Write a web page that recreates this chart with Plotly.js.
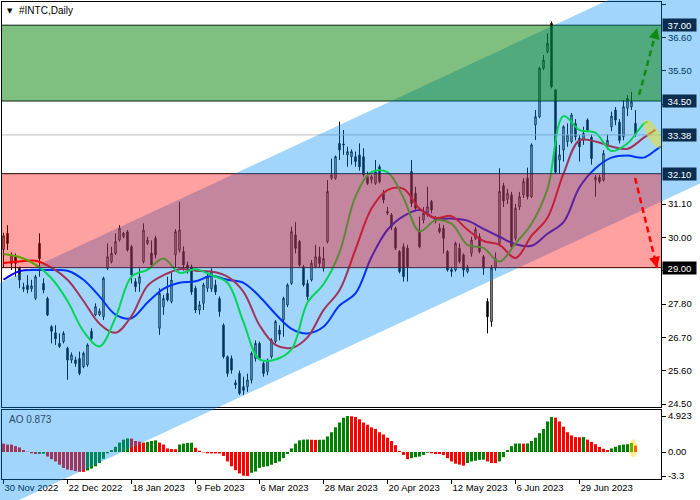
<!DOCTYPE html>
<html><head><meta charset="utf-8">
<script src="https://cdn.plot.ly/plotly-3.0.1.min.js"></script>
<style>html,body{margin:0;padding:0;background:#fff}#chart{width:700px;height:500px}</style>
</head><body><div id="chart"></div>
<script>
// ---------------- data ----------------
const symbolTitle = '#INTC,Daily';
const tickIdx = [0,16,32,48,64,80,96,112,128,144];
const tickLabels = ['30 Nov 2022','22 Dec 2022','18 Jan 2023','9 Feb 2023','6 Mar 2023','28 Mar 2023','20 Apr 2023','12 May 2023','6 Jun 2023','29 Jun 2023'];
const priceTicks = [24.5,25.6,26.7,27.8,28.9,30.0,31.1,34.4,35.5,36.6,37.7];

const open = [29.60,30.13,29.14,29.36,28.98,28.30,28.42,28.30,27.99,29.80,
28.48,27.98,27.05,26.85,26.50,26.56,26.34,25.95,25.95,26.00,
25.73,25.79,26.90,27.44,27.45,27.38,28.98,29.20,29.47,29.91,
30.02,30.18,29.69,28.54,28.48,29.20,29.80,29.48,29.97,27.00,
27.71,28.15,27.88,29.42,29.58,29.53,29.09,29.03,28.32,27.60,
27.82,28.32,28.30,28.43,27.98,27.10,26.06,26.00,25.20,25.51,
25.07,25.07,25.29,26.00,26.50,25.84,25.57,26.06,26.56,26.94,
27.27,27.77,28.48,30.08,29.86,29.03,28.48,28.59,29.03,29.36,
28.98,29.86,31.95,31.95,33.10,33.08,32.72,32.66,32.66,32.72,
32.66,32.00,31.90,31.78,32.33,31.45,30.85,30.74,30.30,29.53,
29.69,29.64,32.17,31.45,30.24,30.57,30.74,31.18,30.63,30.30,
30.30,29.53,28.87,28.92,29.64,29.42,28.87,29.47,29.97,30.02,
29.36,27.88,27.22,29.00,29.80,31.70,31.25,31.40,29.97,31.00,
31.40,31.95,31.34,33.71,33.98,35.58,36.13,37.06,34.86,32.55,
32.88,33.16,33.16,33.76,33.27,33.21,33.87,33.30,31.89,31.98,
31.89,33.00,33.65,34.20,33.80,33.32,34.26,34.31,33.76];
const high = [30.15,30.40,29.50,29.47,29.03,28.50,28.75,28.60,28.76,30.13,
28.65,28.04,27.10,27.10,26.83,26.90,26.39,26.20,26.06,26.23,
26.23,26.50,27.00,27.82,27.65,28.70,29.80,29.69,30.13,30.40,
30.18,30.24,29.75,28.65,28.98,30.46,30.02,29.90,30.05,28.32,
28.10,28.70,28.87,30.27,31.17,29.70,29.20,29.10,28.40,27.90,
28.50,28.80,28.98,28.60,28.05,27.16,26.10,26.10,25.30,25.60,
25.40,25.50,26.23,26.60,26.56,25.90,26.00,26.67,27.27,27.10,
28.04,28.48,30.35,30.50,29.91,29.09,28.60,29.25,29.75,29.69,
29.69,31.89,32.60,32.70,33.82,33.54,32.99,32.90,32.83,33.10,
32.94,32.17,32.06,32.55,32.40,31.56,31.00,30.80,30.35,29.58,
29.80,29.75,32.55,31.67,30.68,31.00,31.67,31.23,30.70,30.46,
30.41,29.58,29.03,29.86,29.80,29.47,29.09,30.02,30.35,30.13,
29.42,27.99,29.09,29.50,32.28,31.80,31.60,31.50,31.10,31.50,
31.95,32.30,33.10,34.20,35.63,36.02,36.73,37.12,34.90,33.05,
33.70,33.76,34.10,33.90,33.38,33.65,33.93,33.40,32.06,32.06,
32.88,33.40,34.15,34.30,33.90,34.53,34.69,34.80,34.20];
const low = [29.00,29.58,28.92,28.70,28.32,28.20,28.15,28.20,27.93,28.70,
28.15,27.40,26.50,26.45,26.35,26.50,25.30,25.85,25.73,25.45,
25.68,25.73,26.60,27.40,27.40,27.27,28.92,29.14,29.42,29.86,
29.97,29.53,28.48,28.20,28.20,29.14,29.75,29.00,29.30,26.78,
27.44,27.88,27.82,29.00,29.50,28.90,28.80,28.10,27.50,27.45,
27.60,28.20,28.20,28.10,27.38,26.00,25.40,25.50,25.00,24.80,
24.80,24.90,25.18,25.90,25.95,25.40,25.45,26.00,26.50,26.60,
26.72,27.70,28.43,29.47,29.03,28.37,27.93,28.54,28.98,29.00,
28.87,29.80,31.90,31.90,32.55,32.72,32.33,32.40,32.33,32.20,
32.00,31.73,31.78,31.73,31.78,31.12,30.74,30.24,29.58,28.81,
28.54,28.54,31.00,30.85,29.64,30.46,30.68,30.79,30.46,30.13,
29.47,28.87,28.70,28.87,29.14,28.70,28.81,29.36,29.91,29.47,
28.76,26.83,27.05,28.90,29.70,31.00,31.10,29.60,29.90,30.90,
31.30,31.25,31.30,33.21,33.93,35.52,36.07,34.92,32.10,32.11,
32.50,32.99,33.10,33.20,32.50,33.05,33.49,32.40,31.34,31.78,
31.84,32.90,33.50,33.70,33.10,33.20,34.00,34.20,33.32];
const close = [30.05,29.80,29.42,29.14,28.59,28.35,28.28,28.40,28.70,29.30,
28.26,27.44,26.90,26.65,26.40,26.83,25.95,26.12,25.84,25.51,
26.17,26.45,26.66,27.71,27.56,28.65,29.36,29.47,29.86,30.30,
30.13,29.58,28.76,28.37,28.70,30.24,29.91,29.09,29.42,28.15,
27.98,27.93,28.59,30.19,30.24,29.09,28.98,28.20,27.60,27.77,
28.43,28.70,28.87,28.20,27.55,26.06,25.51,25.62,25.13,24.85,
24.95,25.29,26.17,26.50,26.00,25.51,25.95,26.61,27.22,26.80,
27.99,28.43,30.19,29.64,29.09,28.43,28.04,29.14,29.36,29.14,
29.30,31.51,32.06,32.66,32.88,33.05,32.83,32.83,32.50,32.33,
32.06,31.78,32.00,32.17,31.84,31.23,30.80,30.35,29.64,28.87,
28.70,29.03,31.12,30.96,29.69,30.79,31.01,30.90,30.55,30.19,
29.97,28.92,28.94,29.80,29.20,28.92,28.98,29.91,30.26,29.53,
28.98,27.38,28.98,29.30,31.51,31.20,31.45,29.69,30.96,31.34,
31.84,31.34,33.05,33.98,35.58,35.85,36.40,34.97,32.15,32.72,
33.65,33.38,34.04,33.32,32.99,33.43,33.54,32.60,31.98,31.84,
32.77,33.20,34.00,33.87,33.20,34.31,34.58,34.47,33.38];

// Alligator lines, read every 4 bars (plus their shifted end)
const lipsIdx  = [0,4,8,12,16,20,24,28,32,36,40,44,48,52,56,60,64,68,72,76,80,84,88,92,96,100,104,108,112,116,120,124,128,132,136,140,144,148,152,156,160,161];
const lips     = [29.45,29.35,29.10,28.65,27.90,26.90,26.40,27.35,28.70,28.93,29.30,28.83,28.95,28.75,28.50,27.20,25.97,25.97,26.30,27.85,28.45,29.50,31.35,32.15,32.15,31.30,30.20,30.56,30.45,29.75,29.65,29.20,29.80,30.45,31.60,34.00,33.54,33.45,32.85,33.10,33.74,33.82];
const teethIdx = [0,4,8,12,16,20,24,28,32,36,40,44,48,52,56,60,64,68,72,76,80,84,88,92,96,100,104,108,112,116,120,124,128,132,136,140,144,148,152,156,160,163];
const teeth    = [29.15,29.20,29.23,29.00,28.60,27.90,27.15,26.85,27.40,28.40,28.75,28.95,28.90,28.87,28.70,28.20,27.10,26.45,26.35,26.70,27.60,28.25,29.60,30.95,31.56,31.60,30.95,30.64,30.70,30.25,29.88,29.75,29.32,30.05,30.65,32.10,33.20,33.16,33.00,32.92,33.28,33.55];
const jawIdx   = [0,4,8,12,16,20,24,28,32,36,40,44,48,52,56,60,64,68,72,76,80,84,88,92,96,100,104,108,112,116,120,124,128,132,136,140,144,148,152,156,160,164,166];
const jaw      = [28.60,28.88,28.92,28.92,28.90,28.60,28.05,27.45,27.33,27.85,28.30,28.50,28.55,28.72,28.60,28.50,28.05,27.47,26.98,26.83,27.05,27.75,28.15,29.35,30.25,30.70,30.90,30.62,30.62,30.55,30.28,30.02,29.77,29.72,30.12,30.50,31.65,32.28,32.63,32.70,32.63,32.97,33.10];

// Awesome Oscillator
const ao = [1.15,1.02,1.01,0.80,0.62,0.27,0.04,-0.18,-0.27,-0.26,
-0.24,-0.62,-0.98,-1.29,-1.74,-2.18,-2.40,-2.49,-2.62,-2.71,
-2.72,-2.53,-2.27,-1.96,-1.51,-0.93,-0.18,0.27,0.71,1.29,
1.69,1.86,1.84,1.51,1.42,1.29,1.39,1.51,1.60,1.29,
1.02,0.49,0.40,0.38,1.02,1.15,1.25,1.27,0.58,0.18,
-0.05,-0.18,-0.19,-0.20,-0.21,-0.54,-1.29,-1.96,-2.49,-2.94,
-3.25,-3.30,-2.84,-2.67,-2.18,-2.04,-1.96,-1.74,-1.51,-1.29,
-0.84,-0.27,0.49,1.15,1.60,1.69,1.71,1.68,1.66,1.67,
1.69,2.13,2.71,3.38,4.04,4.70,4.923,4.90,4.80,4.49,
4.04,3.73,3.38,3.16,2.71,2.40,1.96,1.51,0.93,0.13,
-0.40,-0.98,-0.84,-0.71,-0.62,-0.40,-0.09,-0.18,-0.27,-0.28,
-0.40,-0.84,-1.29,-1.60,-1.73,-1.87,-1.51,-1.29,-1.20,-1.07,
-1.05,-1.29,-1.51,-1.52,-1.29,-0.71,0.27,0.80,1.16,1.17,
1.15,1.17,1.51,1.96,2.58,3.16,4.18,4.80,4.71,4.18,
3.47,2.71,2.27,2.04,2.02,2.05,1.69,1.38,1.07,0.71,
0.44,0.27,0.49,0.71,0.93,1.02,1.07,1.24,0.873];
const aoLabel = 'AO 0.873';
const aoTickVals = [4.923, 0, -3.3];
const aoTickText = ['4.923', '0.00', '-3.3'];

// drawn objects
const levels = [37.00, 34.50, 32.10, 29.00];
const bidPrice = 33.38;
const greenZone = [34.50, 37.00];
const redZone = [29.00, 32.10];
const channelIdx = [-0.875, 174.125];
const channelTop = [28.50, 39.24];
const channelWidth = 7.46;
const upArrowIdx = [158.9, 163.4], upArrowPrice = [34.70, 36.91];
const downArrowIdx = [157.9, 163.4], downArrowPrice = [31.96, 28.99];
const focusIdx = 162.4, focusPrice = 33.41;
const aoFocusIdx = 157.45, aoFocusVal = 0.5;

// ---------------- geometry (pixels) ----------------
const W = 700, H = 500;
const plotL = 2, plotR = 661, mainT = 2, mainB = 407, aoT = 410, aoB = 479;
const barPx = 4, firstBarPx = 3.5;
const pxPerPrice = 400 / 13.2, refPrice = 37.70, refPx = 4;
const aoZeroPx = 452, aoPxPerUnit = 7.3;
const idxAt = px => (px - firstBarPx) / barPx;
const priceAt = py => refPrice - (py - refPx) / pxPerPrice;
const px2paperX = px => px / W, py2paperY = py => 1 - py / H;

const xRange = [idxAt(plotL), idxAt(plotR)];
const mainRange = [priceAt(mainB), priceAt(mainT)];
const aoRange = [(aoZeroPx - aoB) / aoPxPerUnit, (aoZeroPx - aoT) / aoPxPerUnit];

const FONT = 'Liberation Sans, Arial, sans-serif';
const barIdx = open.map((_, i) => i);
const aoColors = ao.map((v, i) => (i > 0 && v > ao[i - 1]) ? '#008000' : '#ff0000');

// ---------------- traces ----------------
const traces = [
  {type: 'candlestick', x: barIdx, open, high, low, close, xaxis: 'x', yaxis: 'y',
   increasing: {line: {color: '#000', width: 1}, fillcolor: '#ffffff'},
   decreasing: {line: {color: '#000', width: 1}, fillcolor: '#000000'},
   whiskerwidth: 0, hoverinfo: 'skip', showlegend: false},
  {type: 'scatter', mode: 'lines', x: jawIdx, y: jaw, line: {color: '#0000ff', width: 2, shape: 'spline', smoothing: 1}, hoverinfo: 'skip'},
  {type: 'scatter', mode: 'lines', x: teethIdx, y: teeth, line: {color: '#ff0000', width: 2, shape: 'spline', smoothing: 1}, hoverinfo: 'skip'},
  {type: 'scatter', mode: 'lines', x: lipsIdx, y: lips, line: {color: '#00ff00', width: 2, shape: 'spline', smoothing: 1}, hoverinfo: 'skip'},
  {type: 'bar', x: barIdx, y: ao, xaxis: 'x2', yaxis: 'y2', marker: {color: aoColors, line: {width: 0}}, hoverinfo: 'skip'},
  {type: 'scatter', x: [], y: [], xaxis: 'x3', yaxis: 'y3', hoverinfo: 'skip'}
];

// ---------------- shapes ----------------
const shapes = [];
levels.forEach(l => shapes.push({type: 'line', xref: 'x', yref: 'y', x0: xRange[0], x1: xRange[1], y0: l, y1: l, line: {color: '#000', width: 1}, layer: 'above'}));
shapes.push({type: 'line', xref: 'x', yref: 'y', x0: xRange[0], x1: xRange[1], y0: bidPrice, y1: bidPrice, line: {color: '#c0c0c0', width: 1}, layer: 'above'});
shapes.push({type: 'path', xref: 'x3', yref: 'y3', layer: 'above',
  path: `M${channelIdx[0]},${channelTop[0]} L${channelIdx[1]},${channelTop[1]} L${channelIdx[1]},${channelTop[1] - channelWidth} L${channelIdx[0]},${channelTop[0] - channelWidth} Z`,
  fillcolor: 'rgba(0,140,245,0.37)', line: {width: 0}});
shapes.push({type: 'rect', xref: 'x', yref: 'y', x0: xRange[0], x1: xRange[1], y0: redZone[0], y1: redZone[1], fillcolor: 'rgba(255,0,0,0.37)', line: {width: 0}, layer: 'above'});
shapes.push({type: 'rect', xref: 'x', yref: 'y', x0: xRange[0], x1: xRange[1], y0: greenZone[0], y1: greenZone[1], fillcolor: 'rgba(0,128,0,0.5)', line: {width: 0}, layer: 'above'});
(function () {
  const rx = 16, ry = 6, ang = 60 * Math.PI / 180, n = 48;
  let p = '';
  for (let k = 0; k <= n; k++) {
    const t = 2 * Math.PI * k / n;
    const dx = rx * Math.cos(t) * Math.cos(ang) - ry * Math.sin(t) * Math.sin(ang);
    const dy = rx * Math.cos(t) * Math.sin(ang) + ry * Math.sin(t) * Math.cos(ang);
    p += (k ? ' L' : 'M') + (focusIdx + dx / barPx).toFixed(3) + ',' + (focusPrice - dy / pxPerPrice).toFixed(4);
  }
  shapes.push({type: 'path', xref: 'x', yref: 'y', path: p + ' Z', fillcolor: 'rgba(245,225,0,0.45)', line: {width: 0}, layer: 'above'});
})();
shapes.push({type: 'circle', xref: 'x2', yref: 'y2', x0: aoFocusIdx - 1, x1: aoFocusIdx + 1, y0: aoFocusVal - 9 / aoPxPerUnit, y1: aoFocusVal + 9 / aoPxPerUnit, fillcolor: 'rgba(245,225,0,0.45)', line: {width: 0}, layer: 'above'});
shapes.push({type: 'line', xref: 'x', yref: 'y', x0: upArrowIdx[0], y0: upArrowPrice[0], x1: upArrowIdx[1], y1: upArrowPrice[1], line: {color: '#118a11', width: 2.5, dash: '6px,4px'}, layer: 'above'});
shapes.push({type: 'line', xref: 'x', yref: 'y', x0: downArrowIdx[0], y0: downArrowPrice[0], x1: downArrowIdx[1], y1: downArrowPrice[1], line: {color: '#ff0000', width: 2.5, dash: '6px,4px'}, layer: 'above'});

// ---------------- annotations ----------------
const annotations = [];
annotations.push({xref: 'paper', yref: 'paper', x: px2paperX(5), y: py2paperY(10.5), xanchor: 'left', yanchor: 'middle', text: '▼', showarrow: false, font: {family: 'DejaVu Sans', size: 7, color: '#000'}});
annotations.push({xref: 'paper', yref: 'paper', x: px2paperX(17), y: py2paperY(10.5), xanchor: 'left', yanchor: 'middle', text: symbolTitle, showarrow: false, font: {family: FONT, size: 10, color: '#000'}});
annotations.push({xref: 'paper', yref: 'paper', x: px2paperX(7), y: py2paperY(419.5), xanchor: 'left', yanchor: 'middle', text: aoLabel, showarrow: false, font: {family: FONT, size: 10, color: '#2e4a6e'}});
const chanAt = (idx, off) => channelTop[0] + (channelTop[1] - channelTop[0]) * (idx - channelIdx[0]) / (channelIdx[1] - channelIdx[0]) - off;
levels.concat([bidPrice]).forEach(l => {
  const ti = idxAt(680);
  const inChan = l <= chanAt(ti, 0) && l >= chanAt(ti, channelWidth);
  annotations.push({xref: 'paper', yref: 'y', x: px2paperX(661.5), y: l, xanchor: 'left', yanchor: 'middle',
    text: l.toFixed(2), showarrow: false, bgcolor: inChan ? '#0b2d4f' : '#000000', width: 33, height: 12, borderpad: 0,
    font: {family: FONT, size: 9.5, color: '#ffffff'}});
});
function head(ix, pr, color) {
  const dx = (ix[1] - ix[0]) * barPx, dy = -(pr[1] - pr[0]) * pxPerPrice;
  const len = Math.hypot(dx, dy);
  return {xref: 'x', yref: 'y', x: ix[1], y: pr[1], ax: -dx / len * 7, ay: -dy / len * 7, text: '', showarrow: true,
    arrowhead: 2, arrowsize: 1, arrowwidth: 2.2, arrowcolor: color, standoff: 0};
}
annotations.push(head(upArrowIdx, upArrowPrice, '#118a11'));
annotations.push(head(downArrowIdx, downArrowPrice, '#ff0000'));

// ---------------- layout ----------------
const tickFont = {family: FONT, size: 9.5, color: '#000'};
const layout = {
  width: W, height: H, margin: {l: 0, r: 0, t: 0, b: 0, pad: 0}, autosize: false,
  paper_bgcolor: '#ffffff', plot_bgcolor: 'rgba(0,0,0,0)', showlegend: false, hovermode: false, dragmode: false,
  boxgap: 0.5, bargap: 0.25,
  xaxis: {domain: [px2paperX(plotL), px2paperX(plotR)], range: xRange, anchor: 'y', showticklabels: false, ticks: '',
          showgrid: false, zeroline: false, showline: true, mirror: true, linecolor: '#000', linewidth: 1,
          rangeslider: {visible: false}, fixedrange: true},
  yaxis: {domain: [py2paperY(mainB), py2paperY(mainT)], range: mainRange, anchor: 'x', side: 'right',
          tickmode: 'array', tickvals: priceTicks, ticktext: priceTicks.map(v => v.toFixed(2)),
          ticks: 'outside', ticklen: 4, tickcolor: '#000',
          tickfont: tickFont, showgrid: false, zeroline: false, showline: true, mirror: true, linecolor: '#000', linewidth: 1, fixedrange: true},
  xaxis2: {domain: [px2paperX(plotL), px2paperX(plotR)], range: xRange, anchor: 'y2', tickmode: 'array',
           tickvals: tickIdx, ticktext: tickLabels, ticks: 'outside', ticklen: 4, tickcolor: '#000',
           ticklabelposition: 'outside right', tickfont: tickFont, showgrid: false, zeroline: false,
           showline: true, mirror: true, linecolor: '#000', linewidth: 1, fixedrange: true},
  yaxis2: {domain: [py2paperY(aoB), py2paperY(aoT)], range: aoRange, anchor: 'x2', side: 'right', tickmode: 'array',
           tickvals: aoTickVals, ticktext: aoTickText, ticks: 'outside', ticklen: 4, tickcolor: '#000', tickfont: tickFont,
           showgrid: false, zeroline: false, showline: true, mirror: true, linecolor: '#000', linewidth: 1, fixedrange: true},
  xaxis3: {domain: [0, 1], range: [idxAt(0), idxAt(W)], anchor: 'y3', visible: false, fixedrange: true},
  yaxis3: {domain: [0, 1], range: [priceAt(H), priceAt(0)], anchor: 'x3', visible: false, fixedrange: true},
  shapes, annotations
};
Plotly.newPlot('chart', traces, layout, {displayModeBar: false, staticPlot: true});
</script></body></html>
